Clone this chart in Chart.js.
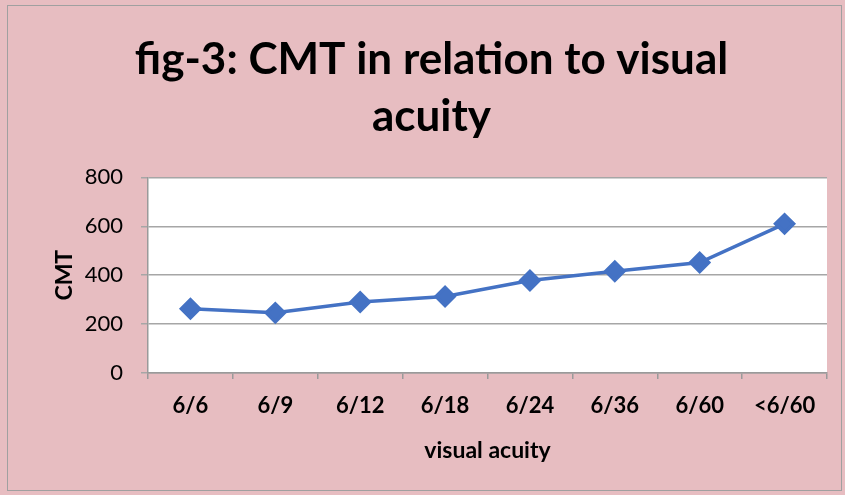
<!DOCTYPE html>
<html>
<head>
<meta charset="utf-8">
<script src="https://cdn.jsdelivr.net/npm/chart.js@4"></script>
<style>
  html, body { margin: 0; padding: 0; background: #e7bdc1; }
  #wrap { width: 845px; height: 495px; }
</style>
</head>
<body>
<div id="wrap"><canvas id="cmtChart" width="845" height="495"></canvas></div>
<script>
// visual acuity groups and mean CMT
const acuityLabels = ['6/6', '6/9', '6/12', '6/18', '6/24', '6/36', '6/60', '<6/60'];
const cmtValues = [263, 246, 290, 313, 378, 416, 452, 610];
const yTicks = [0, 200, 400, 600, 800];

const titleLines = ['fig-3: CMT in relation to visual', 'acuity'];

// pink page background, outer frame and white plot area
const backdrop = {
    id: 'backdrop',
    beforeDraw(chart) {
        const ctx = chart.ctx;
        const area = chart.chartArea;
        ctx.save();
        ctx.fillStyle = '#e7bdc1';
        ctx.fillRect(0, 0, chart.width, chart.height);
        ctx.strokeStyle = '#a0a0a0';
        ctx.lineWidth = 1;
        ctx.strokeRect(7.5, 5.5, chart.width - 11, chart.height - 10);
        ctx.fillStyle = '#ffffff';
        ctx.fillRect(area.left, area.top, area.right - area.left, area.bottom - area.top);
        ctx.restore();
    }
};

const ctx = document.getElementById('cmtChart').getContext('2d');
const cmtChart = new Chart(ctx, {
    type: 'line',
    data: {
        labels: acuityLabels,
        datasets: [{
            label: 'CMT',
            data: cmtValues,
            borderColor: '#4472c4',
            backgroundColor: '#4472c4',
            borderWidth: 3.5,
            pointStyle: 'rectRot',
            pointRadius: 9,
            pointHoverRadius: 9,
            tension: 0
        }]
    },
    options: {
        responsive: false,
        animation: false,
        layout: {
            padding: { left: 36, right: 18, top: 14, bottom: 27 }
        },
        plugins: {
            legend: { display: false },
            tooltip: { enabled: false },
            title: {
                display: true,
                text: titleLines,
                color: '#000000',
                font: { family: 'Lato', size: 44, weight: 'bold', lineHeight: 1.3 },
                padding: { top: 17, bottom: 32 }
            }
        },
        scales: {
            x: {
                offset: true,
                grid: {
                    offset: true,
                    drawOnChartArea: false,
                    drawTicks: true,
                    tickLength: 6,
                    color: '#9a9a9a',
                    lineWidth: 1.5
                },
                border: { color: '#9a9a9a', width: 1.5 },
                ticks: {
                    color: '#000000',
                    padding: 14,
                    maxRotation: 0,
                    font: { family: 'Lato', size: 22, weight: 'bold' }
                },
                title: {
                    display: true,
                    text: 'visual acuity',
                    color: '#000000',
                    font: { family: 'Lato', size: 23, weight: 'bold' },
                    padding: { top: 8 }
                },
                afterFit(scale) { scale.height = 95; }
            },
            y: {
                min: 0,
                max: 800,
                afterBuildTicks(scale) {
                    scale.ticks = yTicks.map(v => ({ value: v }));
                },
                grid: {
                    color: '#a6a6a6',
                    lineWidth: 1.5,
                    tickLength: 7
                },
                border: { color: '#9a9a9a', width: 1.5 },
                ticks: {
                    color: '#000000',
                    padding: 18,
                    font: { family: 'Lato', size: 22 }
                },
                title: {
                    display: true,
                    text: 'CMT',
                    color: '#000000',
                    font: { family: 'Lato', size: 23, weight: 'bold' },
                    padding: { top: 15, bottom: 10 }
                },
                afterFit(scale) { scale.width = 112; }
            }
        }
    },
    plugins: [backdrop]
});
</script>
</body>
</html>
